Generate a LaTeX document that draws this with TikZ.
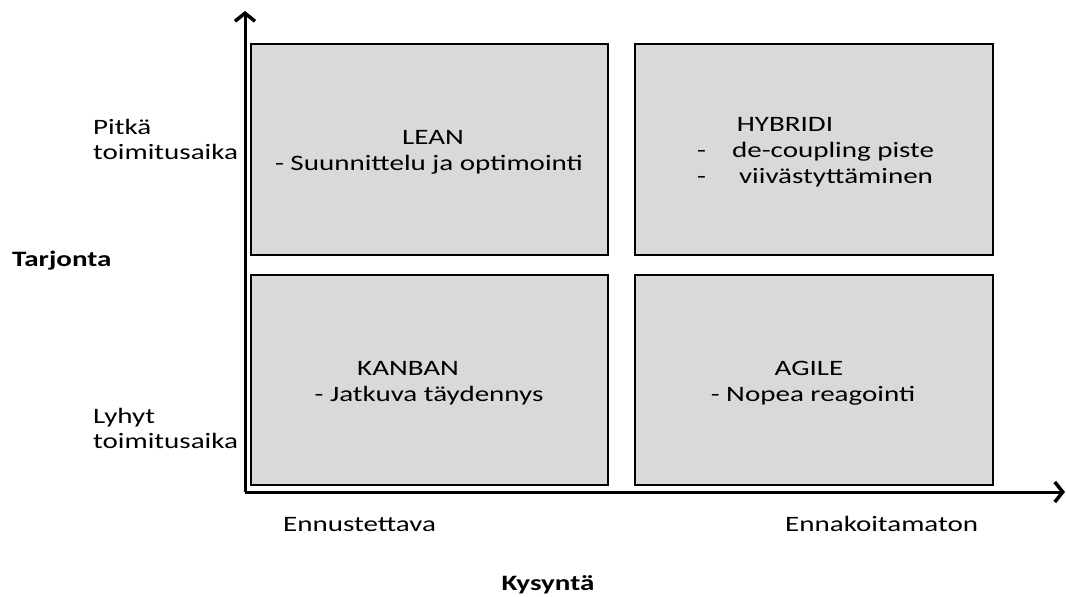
\documentclass[tikz,border=0pt]{standalone}
\usepackage{fontspec}
\setmainfont{Carlito}[FakeStretch=1.32]
\usetikzlibrary{arrows.meta}
\begin{document}
\begin{tikzpicture}[x=1pt,y=-1pt,
  quad/.style={draw=black,line width=2.6pt,fill=black!15},
  axis/.style={line width=3pt,-{Straight Barb[length=8pt,width=20pt,line width=3.5pt]}},
  lbl/.style={inner sep=0pt,font=\fontsize{22}{26}\selectfont},
  bl/.style={lbl,anchor=base west},
  bc/.style={lbl,anchor=base}]
\useasboundingbox (0,0) rectangle (1066,597);
% quadrants
\draw[quad] (251,44) rectangle (608,255);
\draw[quad] (635,44) rectangle (993,255);
\draw[quad] (251,275) rectangle (608,485);
\draw[quad] (635,275) rectangle (993,485);
% axes
\coordinate (o) at (245,492);
\coordinate (ytop) at (245,11);
\coordinate (xend) at (1065,492);
\draw[axis] (o) -- (ytop);
\draw[axis] (o) -- (xend);
% quadrant texts
\node[bc] (lean) at (433,144) {LEAN};
\node[bc] (lean2) at (429,170) {- Suunnittelu ja optimointi};
\node[bc] (hyb) at (785,131) {HYBRIDI};
\node[bl] (hyb2) at (697,157) {-\hspace{26pt}de-coupling piste};
\node[bl] (hyb3) at (697,183) {-\hspace{33pt}viivästyttäminen};
\node[bc] (kan) at (408,375) {KANBAN};
\node[bc] (kan2) at (429,401) {- Jatkuva täydennys};
\node[bc] (agile) at (809,375) {AGILE};
\node[bc] (agile2) at (813,401) {- Nopea reagointi};
% axis labels
\node[bl] (p1) at (93,134) {Pitkä};
\node[bl] (p2) at (93,159) {toimitusaika};
\node[bl] (l1) at (93,423) {Lyhyt};
\node[bl] (l2) at (93,448) {toimitusaika};
\node[bl,font=\fontsize{22}{26}\selectfont\bfseries] (tar) at (12,266) {Tarjonta};
\node[bl] (enn) at (283,531) {Ennustettava};
\node[bl] (ennk) at (785,531) {Ennakoitamaton};
\node[bc,font=\fontsize{22}{26}\selectfont\bfseries] (kys) at (548,590) {Kysyntä};
\end{tikzpicture}
\end{document}
